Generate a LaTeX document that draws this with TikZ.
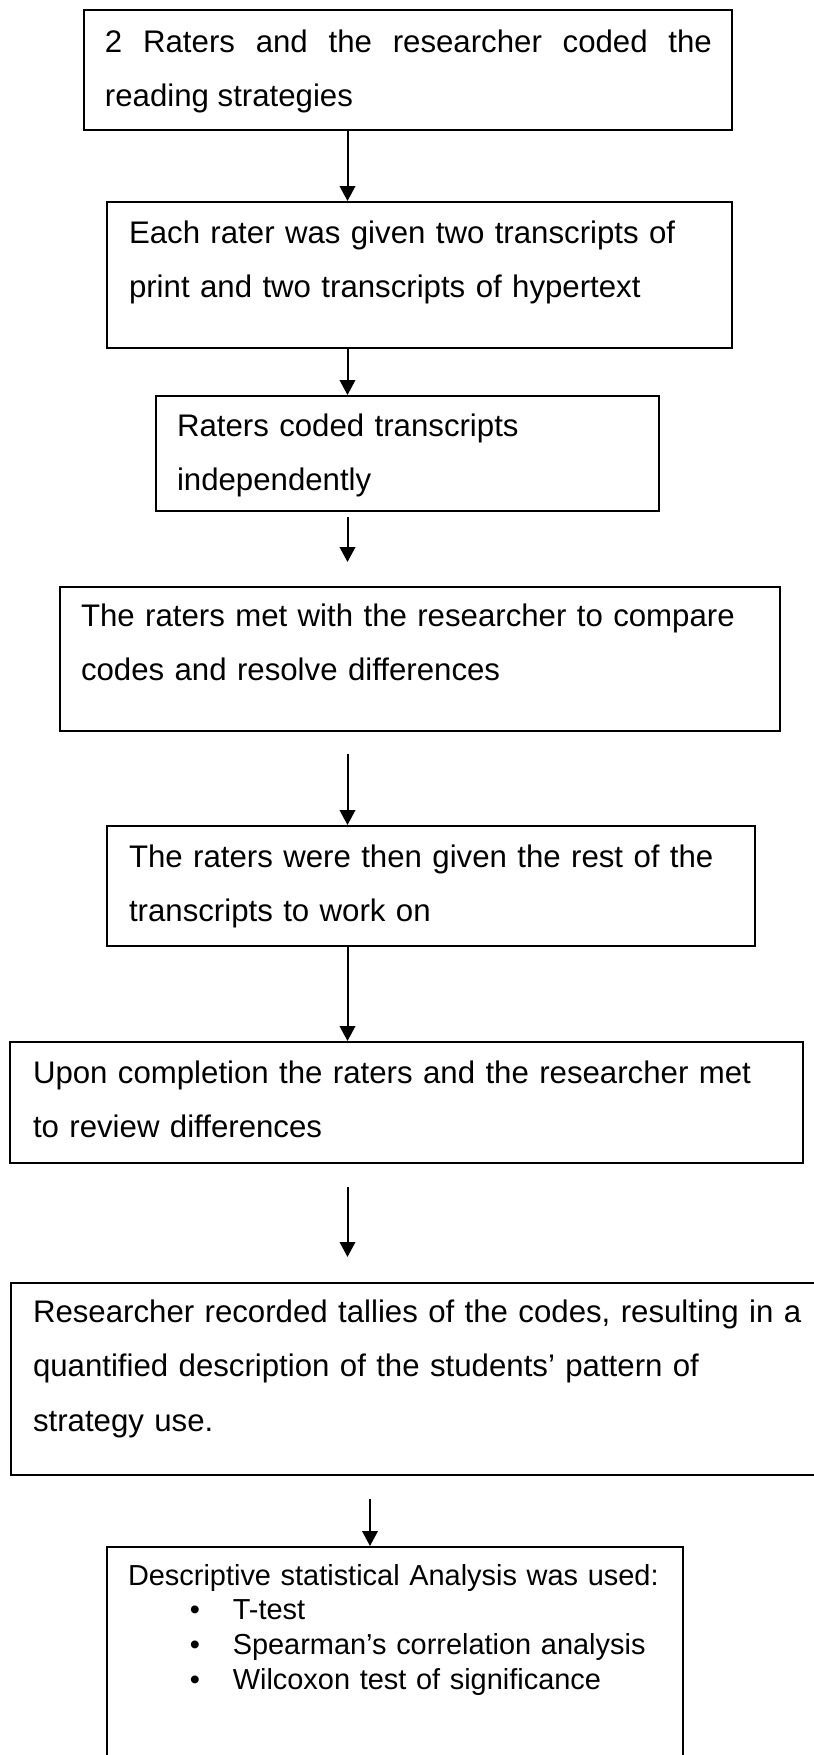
\documentclass[tikz,border=0pt]{standalone}
\usepackage{fontspec}
\setmainfont{Liberation Sans}
\usepackage{tikz}
\usetikzlibrary{arrows.meta, calc, fit, positioning}
\tikzset{%
    edge/.style={%
        -{Triangle[length=5.6pt, width=5.8pt]},
    },
    stepbox/.style={%
        rectangle,
        draw=black,
        inner sep=0pt,
    },
    steptext/.style={%
        anchor=base west,
        align=left,
        text width=300pt,
        inner sep=0pt,
        font=\fontsize{11.7}{20.6}\selectfont,
    },
    listtext/.style={%
        steptext,
        font=\fontsize{10.85}{13.1}\selectfont,
    },
}

\begin{document}
\begin{tikzpicture}[x=0.375pt, y=-0.375pt, line width=.75pt]
	\useasboundingbox (0,0) rectangle (814,1755);
	\clip (0,0) rectangle (814,1755);

	\coordinate (spine) at (347.5, 0);
	\coordinate (spine_low) at (370, 0);

	\node [stepbox, fit={(84,10) (732,130)}] (step1) {};
	\node [stepbox, fit={(107,202) (732,348)}] (step2) {};
	\node [stepbox, fit={(156,396) (659,511)}] (step3) {};
	\node [stepbox, fit={(60,587) (780,731)}] (step4) {};
	\node [stepbox, fit={(107,826) (755,946)}] (step5) {};
	\node [stepbox, fit={(10,1042) (803,1163)}] (step6) {};
	\node [stepbox, fit={(11,1283) (840,1475)}] (step7) {};
	\node [stepbox, fit={(107,1547) (683,1790)}] (step8) {};

	\node [steptext, align=justify, text width=227.6pt] at (104,52) (text1)
		{2 Raters and the researcher coded the\linebreak reading strategies};
	\node [steptext] at (128,243) (text2)
		{Each rater was given two transcripts of\\print and two transcripts of hypertext};
	\node [steptext] at (176,436) (text3)
		{Raters coded transcripts\\independently};
	\node [steptext] at (80,626) (text4)
		{The raters met with the researcher to compare\\codes and resolve differences};
	\node [steptext] at (128,867) (text5)
		{The raters were then given the rest of the\\transcripts to work on};
	\node [steptext] at (32,1083) (text6)
		{Upon completion the raters and the researcher met\\to review differences};
	\node [steptext] at (32,1322) (text7)
		{Researcher recorded tallies of the codes, resulting in a\\quantified description of the students’ pattern of\\strategy use.};
	\node [listtext] at (127,1585) (text8)
		{Descriptive statistical Analysis was used:\\
		\hspace*{23.2pt}\makebox[16.1pt][l]{•}T-test\\
		\hspace*{23.2pt}\makebox[16.1pt][l]{•}Spearman’s correlation analysis\\
		\hspace*{23.2pt}\makebox[16.1pt][l]{•}Wilcoxon test of significance};

	\draw[edge] (step1.south -| spine) -- (step2.north -| spine);
	\draw[edge] (step2.south -| spine) -- (step3.north -| spine);
	\draw[edge, shorten <=1.9pt, shorten >=9pt] (step3.south -| spine) -- (step4.north -| spine);
	\draw[edge, shorten <=8.2pt] (step4.south -| spine) -- (step5.north -| spine);
	\draw[edge] (step5.south -| spine) -- (step6.north -| spine);
	\draw[edge, shorten <=8.6pt, shorten >=9.4pt] (step6.south -| spine) -- (step7.north -| spine);
	\draw[edge, shorten <=8.6pt] (step7.south -| spine_low) -- (step8.north -| spine_low);
\end{tikzpicture}
\end{document}
